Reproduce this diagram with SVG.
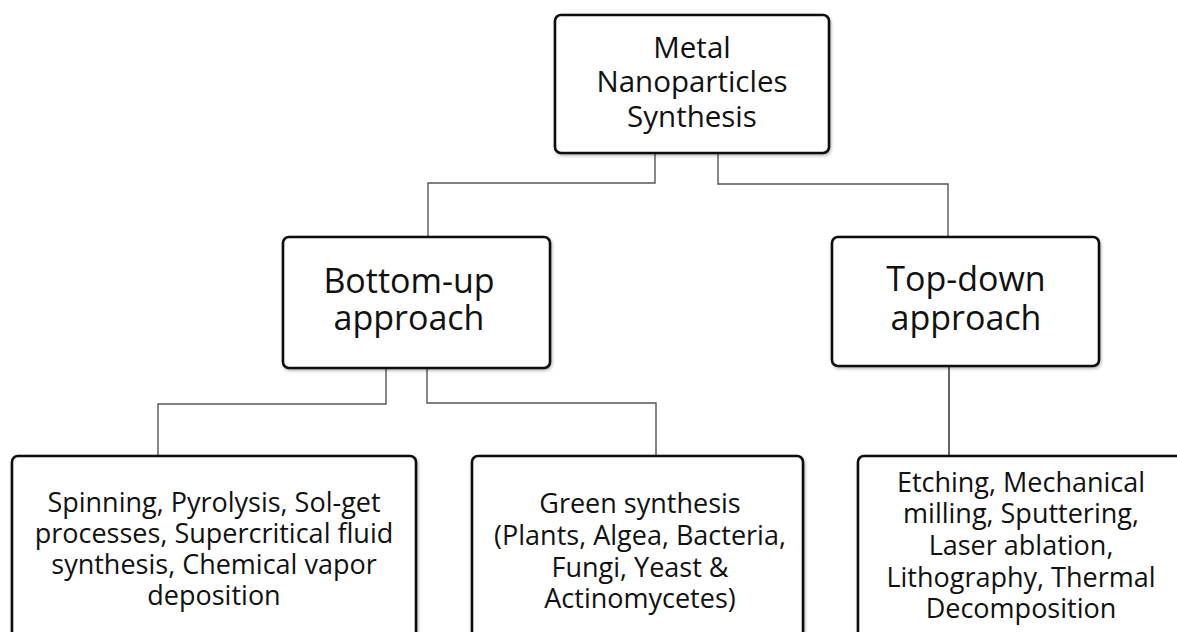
<svg xmlns="http://www.w3.org/2000/svg" width="1177" height="632" viewBox="0 0 1177 632">
<style>
.box{fill:#fff;stroke:#111;stroke-width:2.6;filter:url(#sh)}
.t{font-family:"Open Sans","Noto Sans",sans-serif;fill:#111;text-anchor:middle}
.t1{font-size:29.5px}
.t2{font-size:34px}
.t3{font-size:27px}
.c{fill:none;stroke:#555;stroke-width:1.4}
</style>
<defs>
<filter id="sh" x="-10%" y="-10%" width="120%" height="120%">
<feDropShadow dx="1" dy="1.5" stdDeviation="1.5" flood-color="#000" flood-opacity="0.3"/>
</filter>
</defs>
<rect width="1177" height="632" fill="#fff"/>
<g id="connectors">
<path class="c" d="M655,153 V183 H428 V237"/>
<path class="c" d="M718,153 V184 H948 V237"/>
<path class="c" d="M386,368 V404 H158 V456"/>
<path class="c" d="M427,368 V403 H656 V456"/>
<path class="c" d="M949,366 V455" style="stroke:#222"/>
</g>
<g id="root">
<rect class="box" x="555" y="15" width="274" height="138" rx="6"/>
<text class="t t1" x="692" y="58">Metal</text>
<text class="t t1" x="692" y="92">Nanoparticles</text>
<text class="t t1" x="692" y="127">Synthesis</text>
</g>
<g id="bottomup">
<rect class="box" x="283" y="237" width="267" height="131" rx="6"/>
<text class="t t2" x="409" y="293">Bottom-up</text>
<text class="t t2" x="409" y="330">approach</text>
</g>
<g id="topdown">
<rect class="box" x="832" y="237" width="267" height="129" rx="6"/>
<text class="t t2" x="966" y="291">Top-down</text>
<text class="t t2" x="966" y="330">approach</text>
</g>
<g id="physchem">
<rect class="box" x="12" y="456" width="404" height="200" rx="6"/>
<text class="t t3" x="214" y="512">Spinning, Pyrolysis, Sol-get</text>
<text class="t t3" x="214" y="543">processes, Supercritical fluid</text>
<text class="t t3" x="214" y="574">synthesis, Chemical vapor</text>
<text class="t t3" x="214" y="605">deposition</text>
</g>
<g id="green">
<rect class="box" x="472" y="456" width="331" height="200" rx="6"/>
<text class="t t3" x="640" y="513">Green synthesis</text>
<text class="t t3" x="640" y="545">(Plants, Algea, Bacteria,</text>
<text class="t t3" x="640" y="577">Fungi, Yeast &amp;</text>
<text class="t t3" x="640" y="608">Actinomycetes)</text>
</g>
<g id="topdownmethods">
<rect class="box" x="858" y="456" width="340" height="200" rx="6"/>
<text class="t t3" x="1021" y="492">Etching, Mechanical</text>
<text class="t t3" x="1021" y="523">milling, Sputtering,</text>
<text class="t t3" x="1021" y="555">Laser ablation,</text>
<text class="t t3" x="1021" y="587">Lithography, Thermal</text>
<text class="t t3" x="1021" y="618">Decomposition</text>
</g>
</svg>
